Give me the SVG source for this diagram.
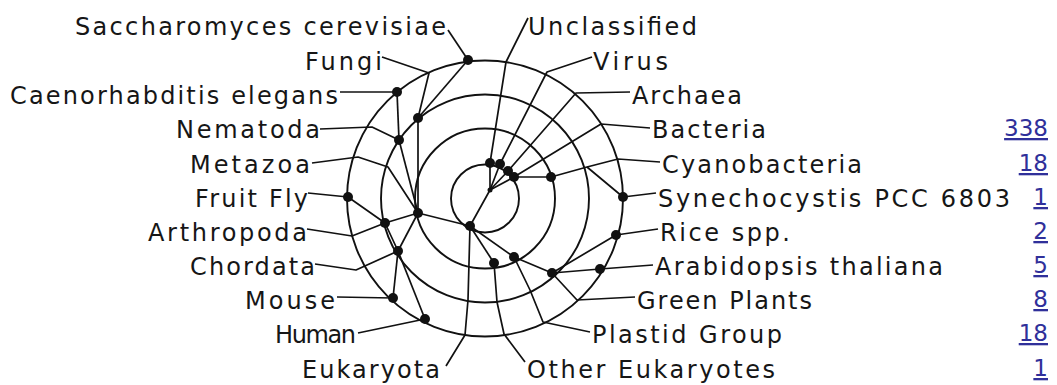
<svg xmlns="http://www.w3.org/2000/svg" width="1057" height="385" viewBox="0 0 1057 385">
<style>
.lbl{font-family:"DejaVu Sans","Liberation Sans",sans-serif;font-size:24px;fill:#161616}
.num{font-family:"DejaVu Sans","Liberation Sans",sans-serif;font-size:23px;fill:#30309a;text-decoration:underline}
.ring{fill:none;stroke:#111;stroke-width:1.9}
.ln{fill:none;stroke:#111;stroke-width:1.7;stroke-linejoin:round}
.dot{fill:#111}
</style>
<rect width="1057" height="385" fill="#fff"/>
<g id="rings">
<circle class="ring" cx="485" cy="198.5" r="138"/>
<circle class="ring" cx="485" cy="198.5" r="104"/>
<circle class="ring" cx="485" cy="198.5" r="70"/>
<circle class="ring" cx="485" cy="198.5" r="34"/>
</g>
<g id="connectors">
<polyline class="ln" points="528,18 506,62 490,163"/>
<polyline class="ln" points="592,57 547,72 500,164"/>
<polyline class="ln" points="630,92 576,93 508,171"/>
<polyline class="ln" points="650,128 601,124 514,177"/>
<polyline class="ln" points="490,163 490,190"/>
<polyline class="ln" points="500,164 490,190"/>
<polyline class="ln" points="508,171 490,190"/>
<polyline class="ln" points="514,177 490,190"/>
<polyline class="ln" points="514,177 551,177 587,167 618,159 660,162"/>
<polyline class="ln" points="587,167 623,197 656,193"/>
<polyline class="ln" points="552,273 616,235 658,229"/>
<polyline class="ln" points="552,273 600,269 653,265"/>
<polyline class="ln" points="552,273 577,300 635,297"/>
<polyline class="ln" points="514,257 552,273"/>
<polyline class="ln" points="514,257 530,290 543,322 590,332"/>
<polyline class="ln" points="470,226 514,257"/>
<polyline class="ln" points="494,263 497,302 504,334 525,362"/>
<polyline class="ln" points="470,226 494,263"/>
<polyline class="ln" points="490,190 470,226 468,300 465,335 446,366"/>
<polyline class="ln" points="418,213 470,226"/>
<polyline class="ln" points="312,163 358,157 388,167 418,213"/>
<polyline class="ln" points="418,213 399,140"/>
<polyline class="ln" points="320,129 372,127 399,140"/>
<polyline class="ln" points="399,140 397,92"/>
<polyline class="ln" points="340,92 397,92"/>
<polyline class="ln" points="418,213 418,118"/>
<polyline class="ln" points="382,57 429,73 418,118"/>
<polyline class="ln" points="418,118 468,60"/>
<polyline class="ln" points="448,30 468,60"/>
<polyline class="ln" points="418,213 385,223"/>
<polyline class="ln" points="307,229 352,236 385,223"/>
<polyline class="ln" points="308,193 348,197 385,223 398,251"/>
<polyline class="ln" points="418,213 398,251"/>
<polyline class="ln" points="315,264 356,270 398,251"/>
<polyline class="ln" points="398,251 393,298"/>
<polyline class="ln" points="398,251 425,319"/>
<polyline class="ln" points="337,297 393,298"/>
<polyline class="ln" points="358,333 425,319"/>
</g>
<g id="nodes">
<circle class="dot" cx="490" cy="163" r="5"/>
<circle class="dot" cx="500" cy="164" r="5"/>
<circle class="dot" cx="508" cy="171" r="5"/>
<circle class="dot" cx="514" cy="177" r="5"/>
<circle class="dot" cx="490" cy="190" r="2.5"/>
<circle class="dot" cx="551" cy="177" r="5"/>
<circle class="dot" cx="623" cy="197" r="5"/>
<circle class="dot" cx="616" cy="235" r="5"/>
<circle class="dot" cx="600" cy="269" r="5"/>
<circle class="dot" cx="552" cy="273" r="5"/>
<circle class="dot" cx="514" cy="257" r="5"/>
<circle class="dot" cx="494" cy="263" r="5"/>
<circle class="dot" cx="470" cy="226" r="5"/>
<circle class="dot" cx="418" cy="213" r="5"/>
<circle class="dot" cx="399" cy="140" r="5"/>
<circle class="dot" cx="397" cy="92" r="5"/>
<circle class="dot" cx="418" cy="118" r="5"/>
<circle class="dot" cx="468" cy="60" r="5"/>
<circle class="dot" cx="385" cy="223" r="5"/>
<circle class="dot" cx="348" cy="197" r="5"/>
<circle class="dot" cx="398" cy="251" r="5"/>
<circle class="dot" cx="393" cy="298" r="5"/>
<circle class="dot" cx="425" cy="319" r="5"/>
</g>
<g id="labels-left" class="lbl" text-anchor="end">
<text x="446" y="35" textLength="371" lengthAdjust="spacing">Saccharomyces cerevisiae</text>
<text x="382" y="70" textLength="77" lengthAdjust="spacing">Fungi</text>
<text x="338" y="104" textLength="328" lengthAdjust="spacing">Caenorhabditis elegans</text>
<text x="320" y="138" textLength="144" lengthAdjust="spacing">Nematoda</text>
<text x="310" y="173" textLength="120" lengthAdjust="spacing">Metazoa</text>
<text x="308" y="207" textLength="113" lengthAdjust="spacing">Fruit Fly</text>
<text x="307" y="241" textLength="159" lengthAdjust="spacing">Arthropoda</text>
<text x="315" y="275" textLength="125" lengthAdjust="spacing">Chordata</text>
<text x="335" y="309" textLength="90" lengthAdjust="spacing">Mouse</text>
<text x="356" y="343" textLength="81" lengthAdjust="spacing">Human</text>
<text x="440" y="378" textLength="138" lengthAdjust="spacing">Eukaryota</text>
</g>
<g id="labels-right" class="lbl">
<text x="528" y="35" textLength="169" lengthAdjust="spacing">Unclassified</text>
<text x="593" y="70" textLength="75" lengthAdjust="spacing">Virus</text>
<text x="632" y="104" textLength="110" lengthAdjust="spacing">Archaea</text>
<text x="652" y="138" textLength="114" lengthAdjust="spacing">Bacteria</text>
<text x="662" y="173" textLength="200" lengthAdjust="spacing">Cyanobacteria</text>
<text x="658" y="207" textLength="352" lengthAdjust="spacing">Synechocystis PCC 6803</text>
<text x="660" y="241" textLength="130" lengthAdjust="spacing">Rice spp.</text>
<text x="655" y="275" textLength="288" lengthAdjust="spacing">Arabidopsis thaliana</text>
<text x="637" y="309" textLength="175" lengthAdjust="spacing">Green Plants</text>
<text x="592" y="343" textLength="190" lengthAdjust="spacing">Plastid Group</text>
<text x="527" y="378" textLength="248" lengthAdjust="spacing">Other Eukaryotes</text>
</g>
<g id="counts" class="num" text-anchor="end">
<text x="1048" y="136">338</text>
<text x="1048" y="171">18</text>
<text x="1048" y="205">1</text>
<text x="1048" y="239">2</text>
<text x="1048" y="273">5</text>
<text x="1048" y="307">8</text>
<text x="1048" y="341">18</text>
<text x="1048" y="376">1</text>
</g>
</svg>
